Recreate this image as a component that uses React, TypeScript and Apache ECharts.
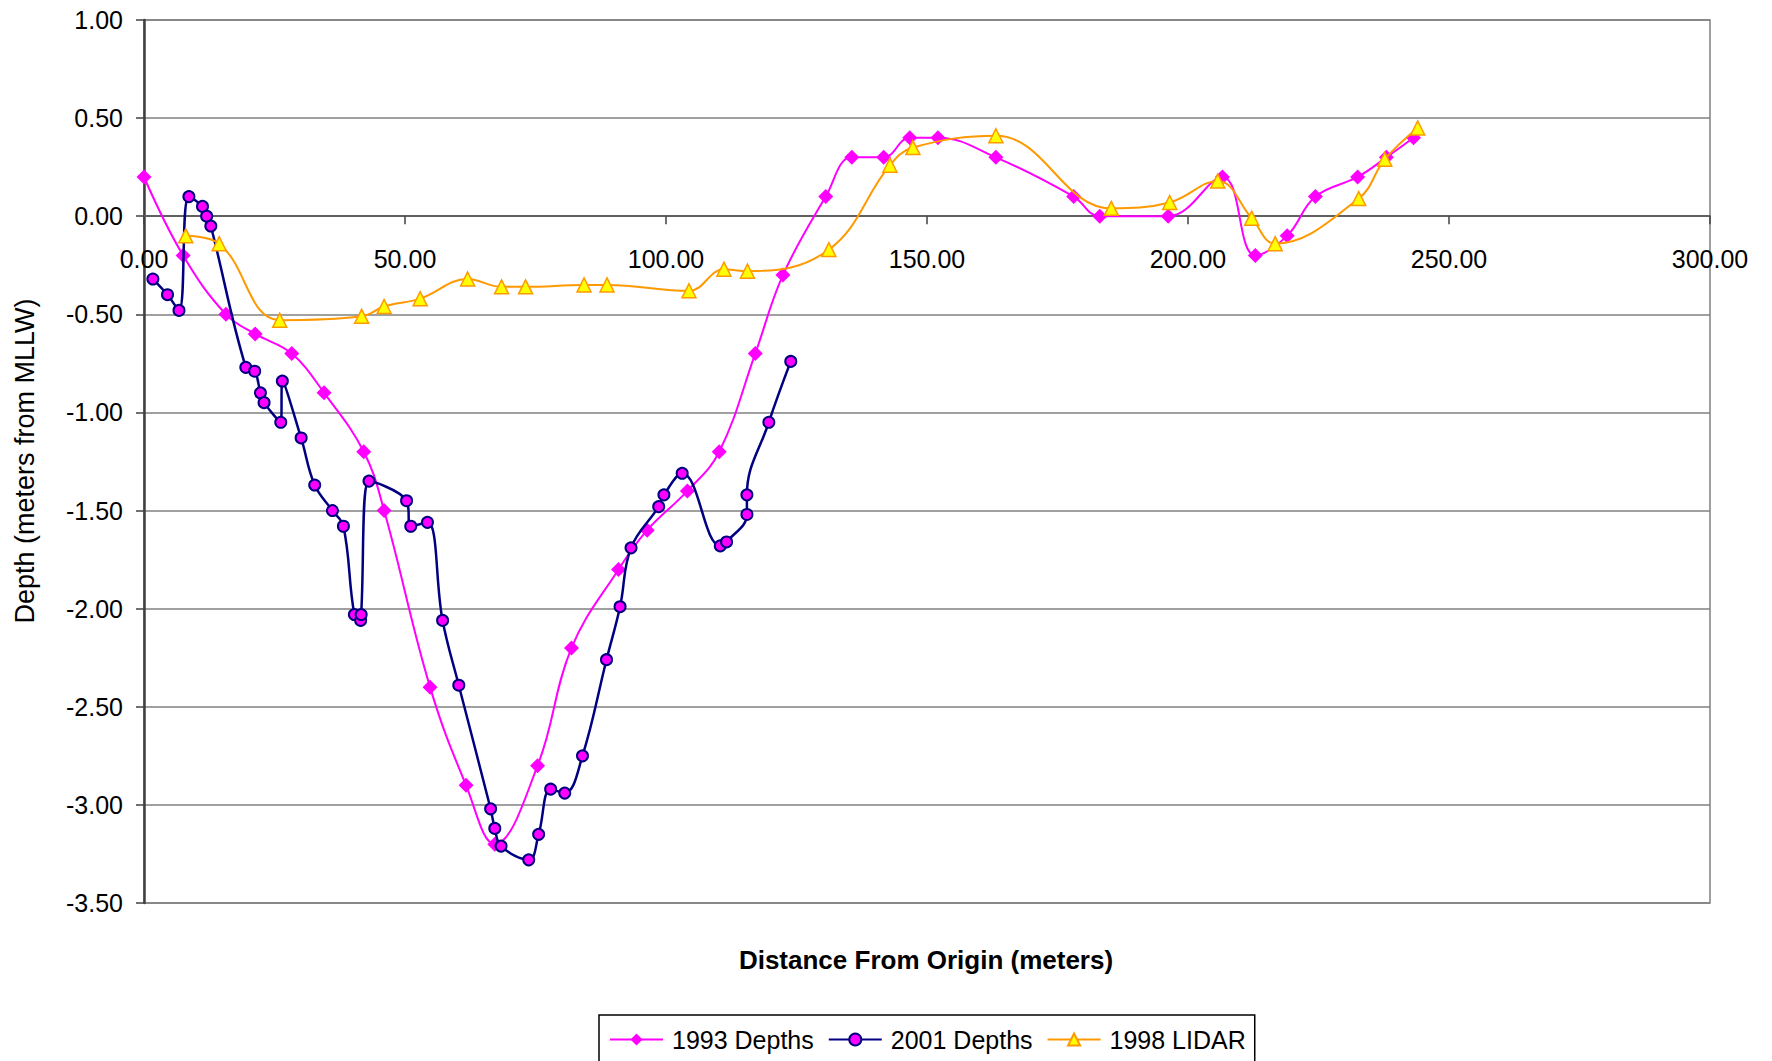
import React, { useEffect, useRef } from "react";
import * as echarts from "echarts";

const dist1993 = [0, 7.5, 15.7, 21.3, 28.3, 34.5, 42.1, 46.0, 54.8, 61.7, 67.2, 75.4, 81.9, 90.9, 96.4, 104.1, 110.2, 117.1, 122.4, 130.6, 135.6, 141.7, 146.7, 152.1, 163.2, 178.1, 183.1, 196.2, 206.6, 212.9, 219.0, 224.4, 232.5, 238.0, 243.2];
const depth1993 = [0.2, -0.2, -0.5, -0.6, -0.7, -0.9, -1.2, -1.5, -2.4, -2.9, -3.2, -2.8, -2.2, -1.8, -1.6, -1.4, -1.2, -0.7, -0.3, 0.1, 0.3, 0.3, 0.4, 0.4, 0.3, 0.1, 0, 0, 0.2, -0.2, -0.1, 0.1, 0.2, 0.3, 0.4];

const dist2001 = [1.7, 4.5, 6.7, 8.6, 11.2, 12.0, 12.8, 19.5, 21.2, 22.3, 23.0, 26.2, 26.5, 30.1, 32.7, 36.1, 38.2, 40.3, 41.5, 41.6, 43.1, 50.3, 51.1, 54.3, 57.2, 60.3, 66.4, 67.2, 68.4, 73.7, 75.6, 77.9, 80.6, 84.0, 88.6, 91.2, 93.3, 98.6, 99.6, 103.1, 110.4, 111.6, 115.5, 115.5, 119.7, 123.9];
const depth2001 = [-0.32, -0.4, -0.48, 0.1, 0.05, 0.0, -0.05, -0.77, -0.79, -0.9, -0.95, -1.05, -0.84, -1.13, -1.37, -1.5, -1.58, -2.03, -2.06, -2.03, -1.35, -1.45, -1.58, -1.56, -2.06, -2.39, -3.02, -3.12, -3.21, -3.28, -3.15, -2.92, -2.94, -2.75, -2.26, -1.99, -1.69, -1.48, -1.42, -1.31, -1.68, -1.66, -1.52, -1.42, -1.05, -0.74];

const dist1998 = [8.0, 14.4, 26.0, 41.7, 46.0, 52.9, 62.0, 68.5, 73.1, 84.3, 88.7, 104.4, 111.1, 115.6, 131.2, 142.9, 147.3, 163.2, 185.3, 196.5, 205.7, 212.2, 216.7, 232.7, 237.7, 244.0];
const depth1998 = [-0.1, -0.14, -0.53, -0.51, -0.46, -0.42, -0.32, -0.36, -0.36, -0.35, -0.35, -0.38, -0.27, -0.28, -0.17, 0.26, 0.35, 0.41, 0.04, 0.07, 0.18, -0.01, -0.14, 0.09, 0.29, 0.45];

const seriesNames = ["1993 Depths", "2001 Depths", "1998 LIDAR"];
const xTitle = "Distance From Origin (meters)";
const yTitle = "Depth (meters from MLLW)";

const pairs = (xs: number[], ys: number[]) => xs.map((x, i) => [x, ys[i]]);

const FONT = "'Liberation Sans', Arial, sans-serif";

// plot area in pixels
const GRID_TOP = 20;
const GRID_BOTTOM = 158;
const CHART_H = 1061;
const Y_MIN = -3.5;
const Y_MAX = 1;
const zeroY = GRID_TOP + ((Y_MAX - 0) / (Y_MAX - Y_MIN)) * (CHART_H - GRID_TOP - GRID_BOTTOM);
const bottomY = CHART_H - GRID_BOTTOM;

export default function App() {
  const ref = useRef<HTMLDivElement>(null);
  useEffect(() => {
    if (!ref.current) return;
    const chart = echarts.init(ref.current, null, { renderer: "svg" });
    const xLabelFmt = (v: number) => v.toFixed(2);
    chart.setOption({
      animation: false,
      backgroundColor: "#ffffff",
      grid: {
        left: 144,
        right: 62,
        top: GRID_TOP,
        bottom: GRID_BOTTOM,
        show: true,
        borderColor: "#808080",
        borderWidth: 1.5,
        backgroundColor: "#ffffff",
      },
      xAxis: [
        {
          type: "value",
          min: 0,
          max: 300,
          interval: 50,
          axisLine: { onZero: true, lineStyle: { color: "#606060", width: 2 } },
          axisTick: { show: true, length: 8, lineStyle: { color: "#404040", width: 1.5 } },
          axisLabel: { show: false },
          splitLine: { show: false },
        },
        {
          type: "value",
          position: "bottom",
          offset: -(bottomY - zeroY),
          min: 0,
          max: 300,
          interval: 50,
          axisLine: { show: false, onZero: false },
          axisTick: { show: false },
          axisLabel: {
            margin: 30,
            color: "#000",
            fontFamily: FONT,
            fontSize: 25,
            formatter: xLabelFmt,
          },
          splitLine: { show: false },
        },
      ],
      yAxis: {
        type: "value",
        min: Y_MIN,
        max: Y_MAX,
        interval: 0.5,
        axisLine: { show: true, onZero: false, lineStyle: { color: "#404040", width: 2.5 } },
        axisTick: { show: true, length: 8, lineStyle: { color: "#404040", width: 1.5 } },
        axisLabel: {
          margin: 21,
          color: "#000",
          fontFamily: FONT,
          fontSize: 25,
          formatter: (v: number) => v.toFixed(2),
        },
        splitLine: { show: true, lineStyle: { color: "#808080", width: 1.5 } },
      },
      legend: {
        left: 599,
        top: 1015,
        orient: "horizontal",
        itemWidth: 53,
        itemHeight: 15,
        itemGap: 14,
        padding: [12, 9, 30, 10],
        borderColor: "#000",
        borderWidth: 1.5,
        backgroundColor: "#fff",
        textStyle: { color: "#000", fontFamily: FONT, fontSize: 25, padding: [0, 0, 0, 4] },
        data: seriesNames,
      },
      graphic: [
        {
          type: "text",
          x: 25,
          y: 461,
          rotation: Math.PI / 2,
          style: {
            text: yTitle,
            fill: "#000",
            font: `27px ${FONT}`,
            align: "center",
            verticalAlign: "middle",
          },
        },
        {
          type: "text",
          x: 926,
          y: 960,
          style: {
            text: xTitle,
            fill: "#000",
            font: `bold 26px ${FONT}`,
            align: "center",
            verticalAlign: "middle",
          },
        },
      ],
      series: [
        {
          name: seriesNames[0],
          type: "line",
          smooth: 0.4,
          data: pairs(dist1993, depth1993),
          symbol: "diamond",
          symbolSize: 15,
          lineStyle: { color: "#FF00FF", width: 2 },
          itemStyle: { color: "#FF00FF", borderColor: "#FF00FF", borderWidth: 0 },
          z: 2,
        },
        {
          name: seriesNames[1],
          type: "line",
          smooth: 0.4,
          data: pairs(dist2001, depth2001),
          symbol: "circle",
          symbolSize: 11,
          lineStyle: { color: "#000080", width: 2.5 },
          itemStyle: { color: "#FF00FF", borderColor: "#000080", borderWidth: 2 },
          z: 3,
        },
        {
          name: seriesNames[2],
          type: "line",
          smooth: 0.4,
          data: pairs(dist1998, depth1998),
          symbol: "triangle",
          symbolSize: 14,
          lineStyle: { color: "#FF9900", width: 2 },
          itemStyle: { color: "#FFFF00", borderColor: "#FF9900", borderWidth: 1.5 },
          z: 4,
        },
      ],
    });
    return () => chart.dispose();
  }, []);
  return (
    <div
      ref={ref}
      style={{ position: "fixed", left: 0, top: 0, width: 1772, height: 1061, background: "#fff" }}
    />
  );
}
